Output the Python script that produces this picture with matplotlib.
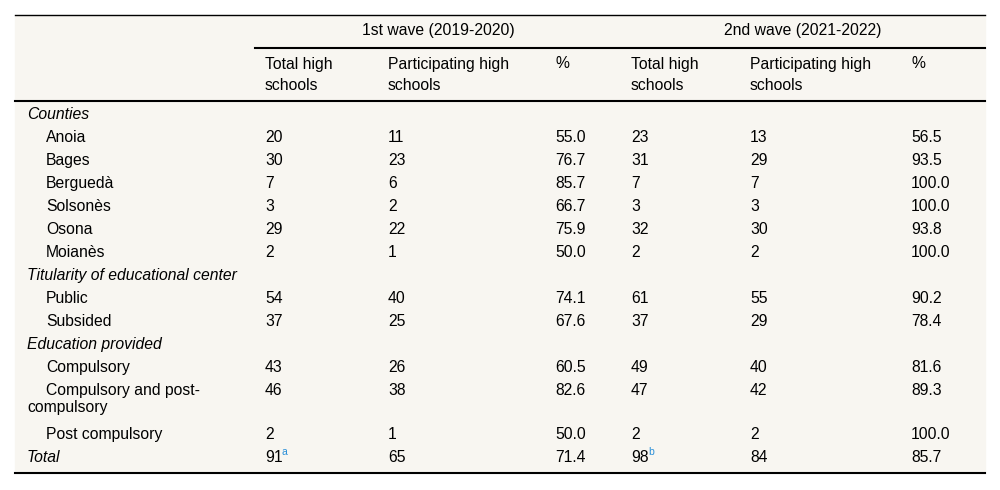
import matplotlib.pyplot as plt

# Row labels; group rows are italic, sub rows are indented
row_labels = ['Counties', 'Anoia', 'Bages', 'Berguedà', 'Solsonès', 'Osona', 'Moianès',
              'Titularity of educational center', 'Public', 'Subsided',
              'Education provided', 'Compulsory', 'Compulsory and post-\ncompulsory',
              'Post compulsory', 'Total']
group_rows = ['Counties', 'Titularity of educational center', 'Education provided', 'Total']

total_w1 = ['', '20', '30', '7', '3', '29', '2', '', '54', '37', '', '43', '46', '2', '91']
part_w1 = ['', '11', '23', '6', '2', '22', '1', '', '40', '25', '', '26', '38', '1', '65']
pct_w1 = ['', '55.0', '76.7', '85.7', '66.7', '75.9', '50.0', '', '74.1', '67.6', '',
          '60.5', '82.6', '50.0', '71.4']
total_w2 = ['', '23', '31', '7', '3', '32', '2', '', '61', '37', '', '49', '47', '2', '98']
part_w2 = ['', '13', '29', '7', '3', '30', '2', '', '55', '29', '', '40', '42', '2', '84']
pct_w2 = ['', '56.5', '93.5', '100.0', '100.0', '93.8', '100.0', '', '90.2', '78.4', '',
          '81.6', '89.3', '100.0', '85.7']
footnotes = {(14, 0): 'a', (14, 3): 'b'}

wave_titles = ['1st wave (2019-2020)', '2nd wave (2021-2022)']
col_titles = ['Total high\nschools', 'Participating high\nschools', '%'] * 2

plt.rcParams['font.family'] = ['Liberation Sans', 'DejaVu Sans']
fs = 11.3
bg = '#f8f6f1'

fig = plt.figure(figsize=(10, 4.9), dpi=100)
ax = fig.add_axes([0, 0, 1, 1])
ax.set_xlim(0, 1000)
ax.set_ylim(490, 0)
ax.axis('off')

left, right, top, bottom = 15, 985, 15, 473
ax.add_patch(plt.Rectangle((left, top), right - left, bottom - top, color=bg, zorder=0))

col_x = [265, 388, 555, 631, 750, 911]
columns = [total_w1, part_w1, pct_w1, total_w2, part_w2, pct_w2]

# header
ax.text(438, 31, wave_titles[0], fontsize=fs, ha='center', va='center')
ax.text(803, 31, wave_titles[1], fontsize=fs, ha='center', va='center')
for x, t in zip(col_x, col_titles):
    for k, line in enumerate(t.split('\n')):
        ax.text(x, 64 + 21 * k, line, fontsize=fs, ha='left', va='center')

ax.plot([left, right], [top, top], color='black', lw=1)
ax.plot([255, right], [48, 48], color='black', lw=1.5)
ax.plot([left, right], [101, 101], color='black', lw=1.5)
ax.plot([left, right], [bottom, bottom], color='black', lw=1.5)

# body rows
y = 114
for i, label in enumerate(row_labels):
    multi = '\n' in label
    if label in group_rows:
        ax.text(27, y, label, fontsize=fs, style='italic', ha='left', va='center')
    elif multi:
        first, second = label.split('\n')
        ax.text(46, y, first, fontsize=fs, ha='left', va='center')
        ax.text(27, y + 17, second, fontsize=fs, ha='left', va='center')
    else:
        ax.text(46, y, label, fontsize=fs, ha='left', va='center')
    for j, (x, col) in enumerate(zip(col_x, columns)):
        ax.text(x, y, col[i], fontsize=fs, ha='left', va='center')
        if (i, j) in footnotes:
            ax.text(x + 17, y - 5, footnotes[(i, j)], fontsize=7.5,
                    color='#2a8fd8', ha='left', va='center')
    y += 44 if multi else 23

fig.savefig('out.png', dpi=100, facecolor='white')
